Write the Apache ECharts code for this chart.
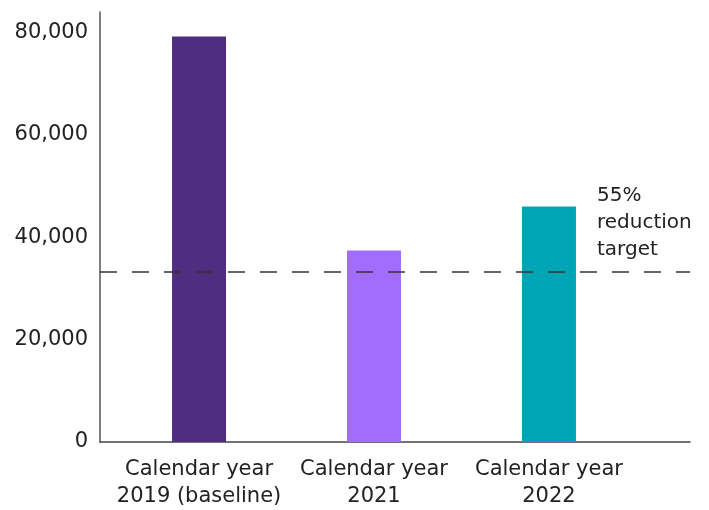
<!DOCTYPE html>
<html>
<head>
<meta charset="utf-8">
<script src="https://cdn.jsdelivr.net/npm/echarts@6/dist/echarts.min.js"></script>
<style>html,body{margin:0;padding:0;background:#fff}#c{width:709px;height:510px}</style>
</head>
<body>
<div id="c"></div>
<script>
var categories = ['Calendar year\n2019 (baseline)', 'Calendar year\n2021', 'Calendar year\n2022'];
var values = [79200, 37400, 46000];
var colors = ['#4f2d7f', '#a26cfe', '#00a5b5'];
var target = 33300;
var targetLabel = '55%\nreduction\ntarget';
var yTicks = [0, 20000, 40000, 60000, 80000];

var font = 'DejaVu Sans';
var chart = echarts.init(document.getElementById('c'));
chart.setOption({
  animation: false,
  grid: {left: 100, right: 19, top: 12, bottom: 68},
  xAxis: {
    type: 'value', min: -0.566, max: 2.806,
    splitLine: {show: false},
    axisTick: {show: false},
    axisLine: {show: true, onZero: false, lineStyle: {color: '#444', width: 1.5}},
    axisLabel: {
      customValues: [0, 1, 2],
      formatter: function (v) { return categories[Math.round(v)]; },
      color: '#222', fontFamily: font, fontSize: 21, lineHeight: 27, margin: 14
    }
  },
  yAxis: {
    type: 'value', min: 0, max: 84000, interval: 20000,
    splitLine: {show: false},
    axisTick: {show: false},
    axisLine: {show: true, onZero: false, lineStyle: {color: '#555', width: 1.5}},
    axisLabel: {
      customValues: yTicks,
      formatter: function (v) { return v.toLocaleString('en-US'); },
      color: '#222', fontFamily: font, fontSize: 21, margin: 12,
      padding: [0, 0, 10, 0]
    }
  },
  series: [{
    type: 'bar',
    barWidth: 54,
    data: values.map(function (v, i) {
      return {value: [i, v], itemStyle: {color: colors[i]}};
    }),
    markLine: {
      symbol: 'none', silent: true,
      label: {show: false},
      lineStyle: {color: '#333', width: 1.5, type: [17, 15]},
      data: [{yAxis: target}]
    }
  }],
  graphic: [{
    type: 'text', left: 597, top: 182,
    style: {text: targetLabel, fill: '#222', font: '20px "DejaVu Sans"', lineHeight: 27}
  }]
});
</script>
</body>
</html>
